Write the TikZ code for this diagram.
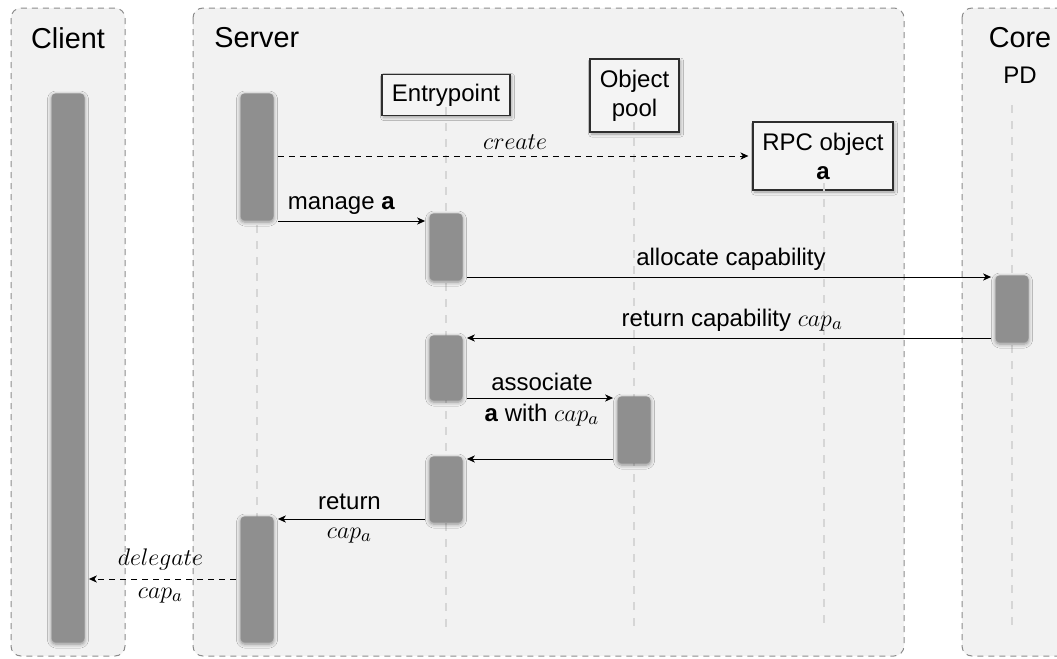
\documentclass[tikz,border=0pt]{standalone}
\usepackage{fontspec}
\setmainfont{Liberation Sans}
\usetikzlibrary{shadows,shadows.blur,arrows.meta}
\definecolor{panelbg}{HTML}{F2F2F2}
\definecolor{panelline}{HTML}{8C8C8C}
\definecolor{lifecol}{HTML}{D6D6D6}
\definecolor{barcol}{HTML}{8F8F8F}
\definecolor{boxfill}{HTML}{F4F4F4}
\definecolor{boxline}{HTML}{2E2E2E}
\newcommand{\mth}[1]{{\fontsize{12.7}{15}\selectfont$#1$}}
\tikzset{
  panel/.style={fill=panelbg, draw=panelline, line width=0.5pt, dash pattern=on 3pt off 2.5pt, rounded corners=5pt},
  title/.style={font=\fontsize{14.4}{17}\selectfont, inner sep=0pt},
  life/.style={draw=lifecol, line width=1pt, dash pattern=on 4pt off 4pt},
  actbar/.style={fill=barcol, draw=none, rounded corners=2pt, minimum width=16.5pt, inner sep=0pt, anchor=north,
    blur shadow={shadow xshift=0pt, shadow yshift=-0.8pt, shadow blur radius=2pt, shadow opacity=45}},
  objbox/.style={fill=boxfill, draw=boxline, line width=0.6pt, align=center, inner sep=2pt,
    blur shadow={shadow xshift=0.8pt, shadow yshift=-1pt, shadow blur radius=1.5pt, shadow opacity=35}},
  msg/.style={line width=0.5pt, -{Stealth[length=4pt,width=3.6pt,inset=1.2pt]}, shorten >=2pt},
  dmsg/.style={msg, dash pattern=on 3pt off 2.5pt},
  up/.style={above, inner sep=0pt, outer sep=0pt, yshift=3.5pt},
  down/.style={below, inner sep=0pt, outer sep=0pt, yshift=-3pt},
  uptwo/.style={above, inner sep=0pt, outer sep=0pt, yshift=4.5pt},
  downtwo/.style={below, inner sep=0pt, outer sep=0pt, yshift=-4.5pt}
}
\begin{document}
\begin{tikzpicture}[x=0.5pt,y=-0.5pt, font=\fontsize{12}{14.5}\selectfont]
\clip (0,0) rectangle (1057,659);
\fill[white] (0,0) rectangle (1057,659);
% panels
\draw[panel] (11,8) rectangle (125,656);
\draw[panel] (193,8) rectangle (904,656);
\draw[panel] (962,8) rectangle (1090,656);
\node[title] (tclient) at (68,38) {Client};
\node[title, anchor=west] (tserver) at (214,38) {Server};
\node[title] (tcore) at (1020,38) {Core};
\node[inner sep=0pt] (tpd) at (1020,75) {PD};
% participant boxes
\node[objbox, minimum width=64pt, minimum height=20.5pt] (ep) at (446,95) {Entrypoint};
\node[objbox, minimum width=44.5pt, minimum height=36.5pt] (pool) at (634.5,95.5) {Object\\pool};
\node[objbox, minimum width=70pt, minimum height=34pt] (rpc) at (823,156) {RPC object\\\textbf{a}};
% lifelines
\draw[life] (257,225) -- (257,629);
\draw[life] (446,107) -- (446,629);
\draw[life] (634,122) -- (634,629);
\draw[life] (824,183) -- (824,629);
\draw[life] (1012,105) -- (1012,629);
% activation bars
\node[actbar, minimum height=274.5pt] (cb) at (68,93) {};
\node[actbar, minimum height=63.5pt] (sb1) at (257,93) {};
\node[actbar, minimum height=33.5pt] (eb1) at (446,213) {};
\node[actbar, minimum height=33.5pt] (pd1) at (1012,275) {};
\node[actbar, minimum height=32.5pt] (eb2) at (446,335) {};
\node[actbar, minimum height=33.5pt] (pb1) at (634,396) {};
\node[actbar, minimum height=33pt] (eb3) at (446,456) {};
\node[actbar, minimum height=63pt] (sb2) at (257,516) {};
% messages
\draw[dmsg] ([xshift=2pt]sb1.east |- rpc.west) -- node[up] {\mth{create}} (rpc.west);
\draw[msg] ([xshift=2pt]sb1.east |- 0,221) -- node[up, pos=0.42] {manage \textbf{a}} (eb1.west |- 0,221);
\draw[msg] ([xshift=2pt]eb1.east |- 0,277) -- node[up] {allocate capability} (pd1.west |- 0,277);
\draw[msg] ([xshift=-2pt]pd1.west |- 0,338) -- node[up, pos=0.49] {return capability \mth{cap_a}} (eb2.east |- 0,338);
\draw[msg] ([xshift=2pt]eb2.east |- 0,398) -- node[up] {associate} node[down] {\textbf{a} with \mth{cap_a}} (pb1.west |- 0,398);
\draw[msg] ([xshift=-2pt]pb1.west |- 0,459) -- (eb3.east |- 0,459);
\draw[msg] ([xshift=-2pt]eb3.west |- 0,519) -- node[uptwo] {return} node[downtwo] {\mth{cap_a}} (sb2.east |- 0,519);
\draw[dmsg] ([xshift=-2pt]sb2.west |- 0,579) -- node[uptwo] {\mth{delegate}} node[downtwo] {\mth{cap_a}} (cb.east |- 0,579);
\end{tikzpicture}
\end{document}
